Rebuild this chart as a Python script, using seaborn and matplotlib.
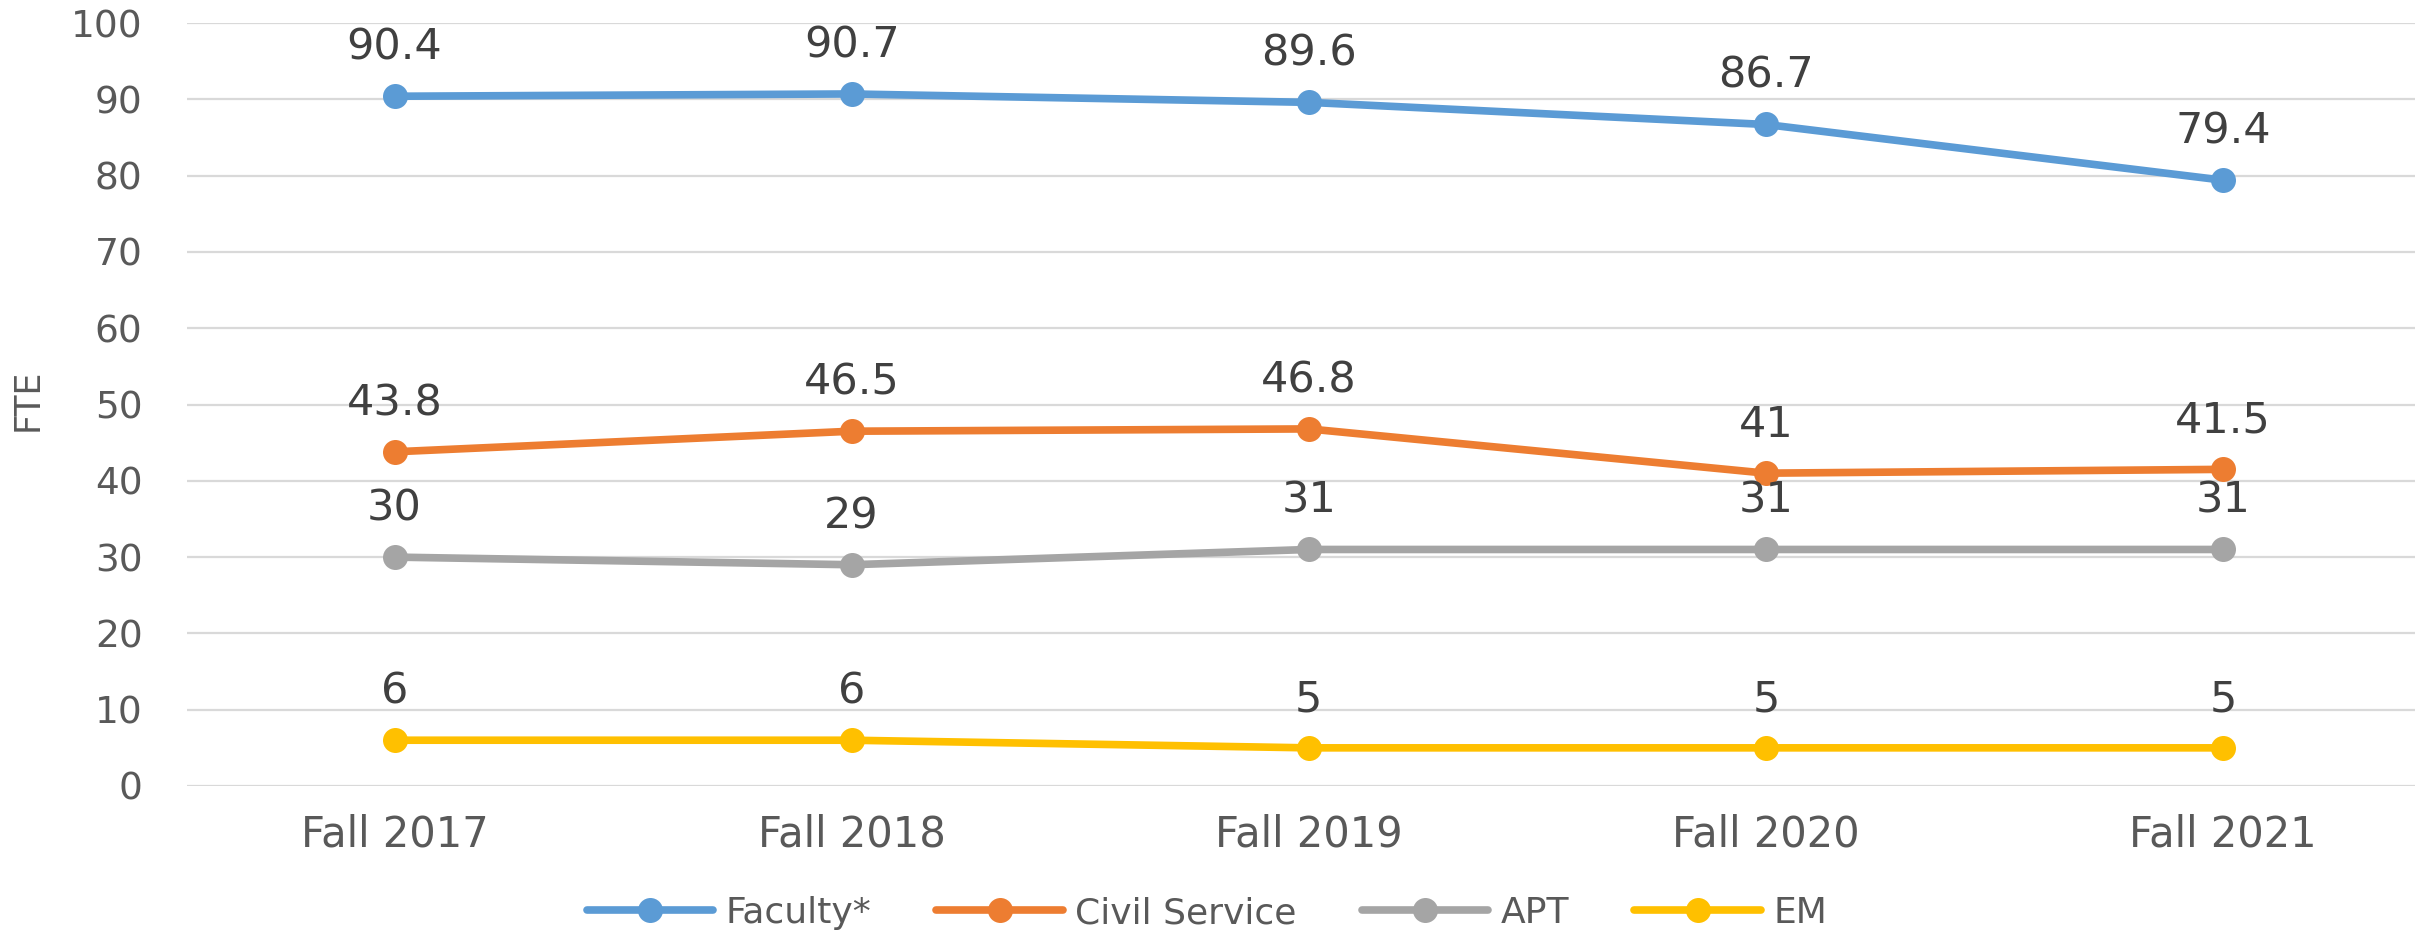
import pandas as pd
import matplotlib
matplotlib.use("Agg")
import matplotlib.pyplot as plt
from matplotlib.lines import Line2D
import seaborn as sns

# Data
terms = ["Fall 2017", "Fall 2018", "Fall 2019", "Fall 2020", "Fall 2021"]
groups = ["Faculty*", "Civil Service", "APT", "EM"]
faculty = [90.4, 90.7, 89.6, 86.7, 79.4]
civil_service = [43.8, 46.5, 46.8, 41, 41.5]
apt = [30, 29, 31, 31, 31]
em = [6, 6, 5, 5, 5]
y_ticks = [0, 10, 20, 30, 40, 50, 60, 70, 80, 90, 100]

colors = ["#5B9BD5", "#ED7D31", "#A5A5A5", "#FFC000"]
palette = dict(zip(groups, colors))

series = [faculty, civil_service, apt, em]
df = pd.DataFrame({
    "term": terms * len(groups),
    "fte": [v for s in series for v in s],
    "group": [g for g in groups for _ in terms],
})

sns.set_theme(style="white")
plt.rcParams["font.family"] = ["DejaVu Sans"]

fig = plt.figure(figsize=(24.25, 9.34), dpi=100)
ax = fig.add_axes([187 / 2425, 1 - 786 / 934, (2415 - 187) / 2425, (786 - 23) / 934])

sns.lineplot(data=df, x="term", y="fte", hue="group", palette=palette,
             hue_order=groups, marker="o", markersize=18, markeredgewidth=0,
             linewidth=5.5, sort=False, legend=False, ax=ax, zorder=3)

# data labels above each point
for g, vals in zip(groups, series):
    for i, v in enumerate(vals):
        ax.annotate(f"{v:g}", (i, v), xytext=(0, 35), textcoords="offset points",
                    ha="center", va="center", fontsize=31, color="#404040")

ax.set_ylim(0, 100)
ax.set_xlim(-0.454, 4.42)
ax.set_yticks(y_ticks)
ax.grid(axis="y", color="#D9D9D9", linewidth=1.6, zorder=0)
ax.grid(axis="x", visible=False)
for sp in ax.spines.values():
    sp.set_visible(False)
ax.tick_params(axis="y", length=0, pad=32, labelsize=27, labelcolor="#595959")
ax.tick_params(axis="x", length=0, pad=20, labelsize=30, labelcolor="#595959")
ax.set_xlabel("")
ax.set_ylabel("FTE", fontsize=25, color="#595959")
ax.yaxis.set_label_coords(-0.0637, 0.506)

handles = [Line2D([], [], color=c, linewidth=5.5, marker="o", markersize=18,
                  markeredgewidth=0) for c in colors]
fig.legend(handles, groups, loc="center", bbox_to_anchor=(0.4977, 1 - 913 / 934),
           ncol=4, frameon=False, fontsize=26, handlelength=3.5, handletextpad=0.35,
           columnspacing=1.8, labelcolor="#595959")

fig.savefig("out.png", dpi=100)
